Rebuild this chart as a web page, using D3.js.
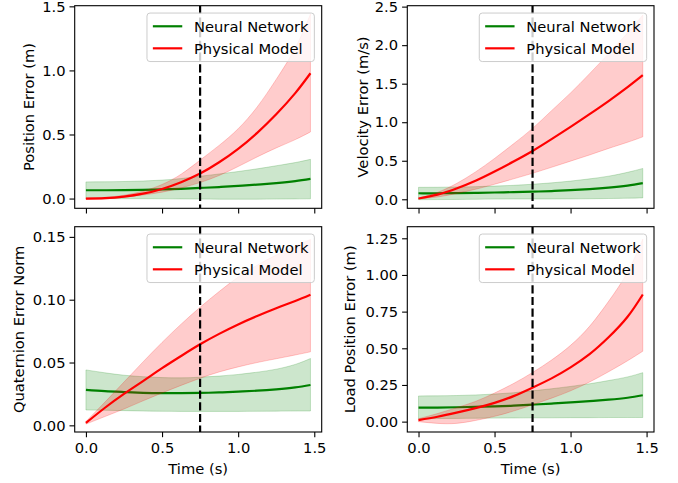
<!DOCTYPE html>
<html>
<head>
<meta charset="utf-8">
<script src="https://cdn.jsdelivr.net/npm/d3@7"></script>
<style>
  html, body { margin: 0; padding: 0; background: #fff; }
  svg { display: block; font-family: "DejaVu Sans", sans-serif; }
</style>
</head>
<body>
<svg id="chart" width="678" height="483"></svg>
<script>
// Prediction horizon (s)
const time = [0, 0.125, 0.25, 0.375, 0.5, 0.625, 0.75, 0.875, 1.0, 1.125, 1.25, 1.375, 1.475];
const splitTime = 0.75;
const xTicks = [0, 0.5, 1.0, 1.5];

// Position error (m)
const posNN   = [0.065, 0.065, 0.066, 0.068, 0.071, 0.076, 0.083, 0.090, 0.099, 0.109, 0.121, 0.136, 0.153];
const posNNHi = [0.130, 0.131, 0.133, 0.137, 0.144, 0.156, 0.174, 0.192, 0.211, 0.232, 0.256, 0.281, 0.306];
const posNNLo = [0.000, -0.001, -0.001, -0.001, -0.002, -0.003, -0.004, -0.005, -0.005, -0.005, -0.004, -0.003, -0.002];
const posPM   = [0.000, 0.003, 0.015, 0.038, 0.075, 0.128, 0.195, 0.283, 0.388, 0.513, 0.658, 0.823, 0.978];
const posPMHi = [0.005, 0.009, 0.026, 0.058, 0.110, 0.190, 0.300, 0.415, 0.545, 0.715, 0.930, 1.175, 1.440];
const posPMLo = [-0.005, -0.002, 0.010, 0.028, 0.050, 0.083, 0.125, 0.180, 0.250, 0.325, 0.395, 0.460, 0.520];

// Velocity error (m/s)
const velNN   = [0.078, 0.078, 0.080, 0.083, 0.088, 0.093, 0.099, 0.107, 0.118, 0.133, 0.152, 0.178, 0.210];
const velNNHi = [0.155, 0.156, 0.159, 0.164, 0.171, 0.181, 0.195, 0.213, 0.236, 0.265, 0.300, 0.350, 0.400];
const velNNLo = [-0.005, -0.004, -0.002, 0.000, 0.003, 0.004, 0.004, 0.004, 0.005, 0.007, 0.010, 0.014, 0.018];
const velPM   = [0.010, 0.060, 0.140, 0.240, 0.360, 0.490, 0.627, 0.780, 0.940, 1.105, 1.275, 1.455, 1.610];
const velPMHi = [0.015, 0.090, 0.205, 0.355, 0.530, 0.720, 0.920, 1.150, 1.380, 1.630, 1.890, 2.160, 2.390];
const velPMLo = [0.005, 0.030, 0.075, 0.130, 0.195, 0.265, 0.337, 0.415, 0.495, 0.575, 0.660, 0.740, 0.810];

// Quaternion error norm
const quatNN   = [0.0282, 0.0272, 0.0265, 0.0259, 0.0256, 0.0256, 0.0258, 0.0262, 0.0268, 0.0276, 0.0287, 0.0302, 0.0321];
const quatNNHi = [0.0441, 0.0418, 0.0399, 0.0387, 0.0380, 0.0378, 0.0383, 0.0392, 0.0405, 0.0423, 0.0447, 0.0485, 0.0532];
const quatNNLo = [0.0122, 0.0120, 0.0117, 0.0114, 0.0112, 0.0111, 0.0111, 0.0111, 0.0111, 0.0112, 0.0113, 0.0114, 0.0114];
const quatPM   = [0.0019, 0.0140, 0.0250, 0.0352, 0.0455, 0.0552, 0.0645, 0.0728, 0.0803, 0.0870, 0.0932, 0.0990, 0.1040];
const quatPMHi = [0.0030, 0.0185, 0.0345, 0.0505, 0.0660, 0.0805, 0.0940, 0.1065, 0.1180, 0.1275, 0.1355, 0.1425, 0.1480];
const quatPMLo = [0.0010, 0.0070, 0.0130, 0.0195, 0.0258, 0.0318, 0.0375, 0.0425, 0.0465, 0.0500, 0.0530, 0.0560, 0.0585];

// Load position error (m)
const loadNN   = [0.095, 0.096, 0.098, 0.101, 0.104, 0.109, 0.116, 0.123, 0.131, 0.140, 0.150, 0.163, 0.180];
const loadNNHi = [0.175, 0.176, 0.178, 0.182, 0.188, 0.197, 0.210, 0.224, 0.240, 0.258, 0.280, 0.305, 0.334];
const loadNNLo = [0.020, 0.021, 0.022, 0.023, 0.024, 0.025, 0.026, 0.026, 0.027, 0.027, 0.028, 0.028, 0.028];
const loadPM   = [0.010, 0.033, 0.061, 0.092, 0.128, 0.174, 0.232, 0.295, 0.370, 0.460, 0.575, 0.715, 0.867];
const loadPMHi = [0.020, 0.055, 0.095, 0.138, 0.195, 0.260, 0.335, 0.420, 0.520, 0.650, 0.820, 1.020, 1.245];
const loadPMLo = [0.000, -0.012, -0.012, 0.008, 0.036, 0.072, 0.115, 0.160, 0.210, 0.270, 0.340, 0.415, 0.480];

const seriesNames = ["Neural Network", "Physical Model"];
const seriesColors = ["#008000", "#ff0000"];

const panels = [
  { label: "Position Error (m)", yDomain: [-0.076, 1.505], yTicks: [0, 0.5, 1.0, 1.5], fmt: ".1f",
    nn: [posNN, posNNLo, posNNHi], pm: [posPM, posPMLo, posPMHi] },
  { label: "Velocity Error (m/s)", yDomain: [-0.117, 2.512], yTicks: [0, 0.5, 1.0, 1.5, 2.0, 2.5], fmt: ".1f",
    nn: [velNN, velNNLo, velNNHi], pm: [velPM, velPMLo, velPMHi] },
  { label: "Quaternion Error Norm", yDomain: [-0.0053, 0.1581], yTicks: [0, 0.05, 0.10, 0.15], fmt: ".2f",
    nn: [quatNN, quatNNLo, quatNNHi], pm: [quatPM, quatPMLo, quatPMHi] },
  { label: "Load Position Error (m)", yDomain: [-0.0707, 1.329], yTicks: [0, 0.25, 0.5, 0.75, 1.0, 1.25], fmt: ".2f",
    nn: [loadNN, loadNNLo, loadNNHi], pm: [loadPM, loadPMLo, loadPMHi] }
];

// Axes boxes in pixels: [left, top, right, bottom]
const boxes = [
  [74.7, 5.7, 321.7, 208.3],
  [407.3, 5.7, 654, 208.3],
  [74.7, 226.7, 321.7, 432],
  [407.3, 226.7, 654, 432]
];
const labelX = [28.5, 362, 18.5, 349];

const FS = 14.7;
const svg = d3.select("#chart");
const xDomain = [-0.0738, 1.5488];

panels.forEach((p, i) => {
  const [L, T, R, B] = boxes[i];
  const x = d3.scaleLinear().domain(xDomain).range([L, R]);
  const y = d3.scaleLinear().domain(p.yDomain).range([B, T]);
  const g = svg.append("g");

  const clipId = "clip" + i;
  svg.append("clipPath").attr("id", clipId)
    .append("rect").attr("x", L).attr("y", T).attr("width", R - L).attr("height", B - T);

  const plot = g.append("g").attr("clip-path", `url(#${clipId})`);

  const area = d3.area().curve(d3.curveNatural)
    .x((d, k) => x(time[k])).y0(d => y(d[0])).y1(d => y(d[1]));
  const line = d3.line().curve(d3.curveNatural)
    .x((d, k) => x(time[k])).y(d => y(d));

  [p.nn, p.pm].forEach((s, j) => {
    const band = s[1].map((lo, k) => [lo, s[2][k]]);
    plot.append("path").attr("d", area(band))
      .attr("fill", seriesColors[j]).attr("fill-opacity", 0.2)
      .attr("stroke", seriesColors[j]).attr("stroke-opacity", 0.2).attr("stroke-width", 1);
    plot.append("path").attr("d", line(s[0]))
      .attr("fill", "none").attr("stroke", seriesColors[j]).attr("stroke-width", 2.2);
  });

  // Split between training and prediction horizon
  plot.append("line")
    .attr("x1", x(splitTime)).attr("x2", x(splitTime)).attr("y1", T).attr("y2", B)
    .attr("stroke", "#000").attr("stroke-width", 2.2).attr("stroke-dasharray", "8.2,3.5");

  // Axes
  const xAxis = d3.axisBottom(x).tickValues(xTicks).tickSize(5.2).tickPadding(5)
    .tickFormat(i >= 2 ? d3.format(".1f") : () => "");
  const yAxis = d3.axisLeft(y).tickValues(p.yTicks).tickSize(5.2).tickPadding(4)
    .tickFormat(d3.format(p.fmt));

  const gx = g.append("g").attr("transform", `translate(0,${B})`).call(xAxis);
  const gy = g.append("g").attr("transform", `translate(${L},0)`).call(yAxis);
  [gx, gy].forEach(a => {
    a.select(".domain").remove();
    a.selectAll("line").attr("stroke", "#000").attr("stroke-width", 1.1);
    a.selectAll("text").attr("font-size", FS).attr("fill", "#000")
      .attr("font-family", "DejaVu Sans");
  });

  g.append("rect").attr("x", L).attr("y", T).attr("width", R - L).attr("height", B - T)
    .attr("fill", "none").attr("stroke", "#000").attr("stroke-width", 1.1);

  // Axis titles
  g.append("text")
    .attr("transform", `translate(${labelX[i]},${(T + B) / 2}) rotate(-90)`)
    .attr("text-anchor", "middle").attr("dominant-baseline", "central")
    .attr("font-size", FS).text(p.label);
  if (i >= 2) {
    g.append("text").attr("x", (L + R) / 2).attr("y", 468)
      .attr("text-anchor", "middle").attr("dominant-baseline", "central")
      .attr("font-size", FS).text("Time (s)");
  }

  // Legend (upper right)
  const pad = 0.5 * FS, bpad = 0.4 * FS, hlen = 2 * FS, htp = 0.8 * FS, rowH = FS, lsp = 0.5 * FS;
  const leg = g.append("g");
  const frame = leg.append("rect");
  const texts = seriesNames.map((name, j) =>
    leg.append("text").attr("font-size", FS).attr("dominant-baseline", "central").text(name));
  const tw = d3.max(texts, t => t.node().getComputedTextLength());
  const w = 2 * bpad + hlen + htp + tw;
  const h = 2 * bpad + 2 * rowH + lsp;
  const lx = R - pad - w, ly = T + pad;
  frame.attr("x", lx).attr("y", ly).attr("width", w).attr("height", h)
    .attr("rx", 3).attr("ry", 3)
    .attr("fill", "#fff").attr("fill-opacity", 0.8)
    .attr("stroke", "#cccccc").attr("stroke-width", 1);
  texts.forEach((t, j) => {
    const cy = ly + bpad + rowH / 2 + j * (rowH + lsp);
    leg.append("line").attr("x1", lx + bpad).attr("x2", lx + bpad + hlen)
      .attr("y1", cy).attr("y2", cy)
      .attr("stroke", seriesColors[j]).attr("stroke-width", 2.2);
    t.attr("x", lx + bpad + hlen + htp).attr("y", cy + 0.5);
  });
});
</script>
</body>
</html>
